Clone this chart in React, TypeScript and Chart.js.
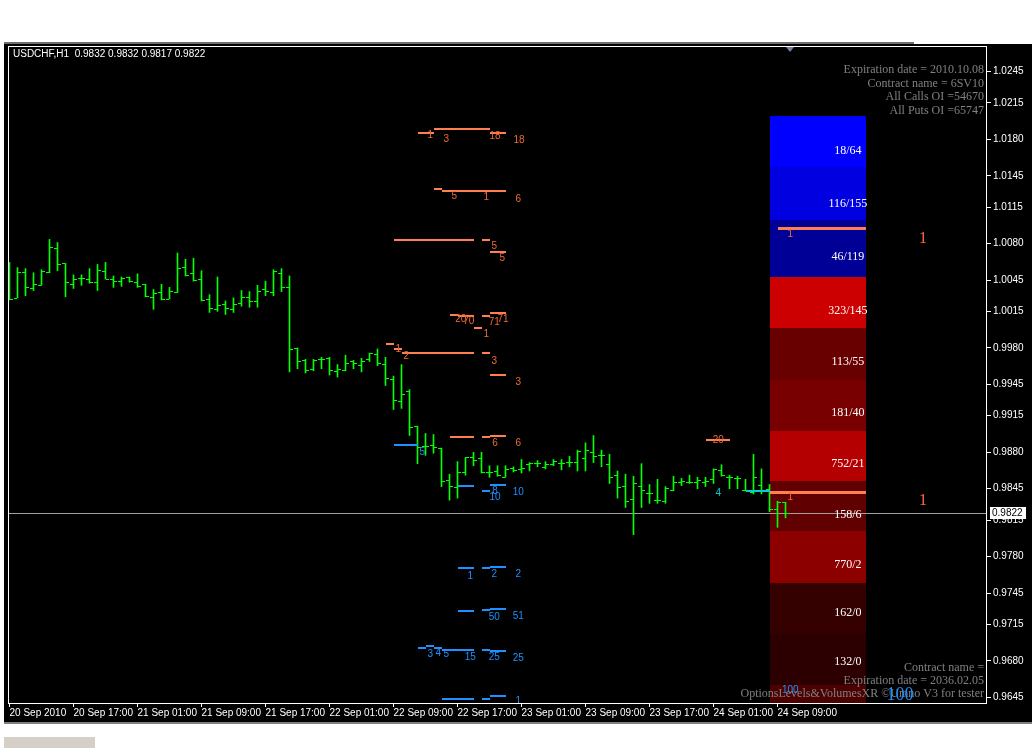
import React, { useEffect, useRef } from 'react';
import { Chart, registerables } from 'chart.js';

Chart.register(...registerables);

// ---------- data ----------
const HEADER = 'USDCHF,H1  0.9832 0.9832 0.9817 0.9822';
const LAST_PRICE = 0.9822;

const OPEN = [
  1.0045, 1.0028, 1.0053, 1.0037, 1.0040, 1.0053, 1.0076, 1.0061, 1.0041, 1.0047,
  1.0046, 1.0043, 1.0054, 1.0046, 1.0044, 1.0048, 1.0043, 1.0041, 1.0029, 1.0034,
  1.0027, 1.0034, 1.0058, 1.0052, 1.0046, 1.0027, 1.0017, 1.0022, 1.0017, 1.0023,
  1.0029, 1.0025, 1.0036, 1.0034, 1.0052, 1.0038, 0.9980, 0.9968, 0.9960, 0.9969,
  0.9970, 0.9958, 0.9959, 0.9967, 0.9964, 0.9969, 0.9974, 0.9965, 0.9950, 0.9929,
  0.9939, 0.9905, 0.9886, 0.9887, 0.9884, 0.9853, 0.9847, 0.9861, 0.9875, 0.9874,
  0.9861, 0.9862, 0.9856, 0.9865, 0.9864, 0.9869, 0.9870, 0.9866, 0.9869, 0.9870,
  0.9871, 0.9871, 0.9874, 0.9880, 0.9877, 0.9869, 0.9858, 0.9848, 0.9835, 0.9848,
  0.9841, 0.9834, 0.9833, 0.9844, 0.9851, 0.9851, 0.9851, 0.9851, 0.9854, 0.9863,
  0.9856, 0.9855, 0.9844, 0.9842, 0.9849, 0.9845, 0.9826, 0.9832,
];
const HIGH = [
  1.0062, 1.0057, 1.0056, 1.0052, 1.0055, 1.0084, 1.0081, 1.0061, 1.0050, 1.0050,
  1.0056, 1.0060, 1.0062, 1.0049, 1.0048, 1.0048, 1.0051, 1.0041, 1.0036, 1.0041,
  1.0038, 1.0071, 1.0065, 1.0066, 1.0054, 1.0031, 1.0048, 1.0025, 1.0028, 1.0035,
  1.0034, 1.0040, 1.0044, 1.0055, 1.0056, 1.0049, 0.9980, 0.9969, 0.9969, 0.9971,
  0.9971, 0.9964, 0.9973, 0.9968, 0.9970, 0.9975, 0.9979, 0.9971, 0.9953, 0.9964,
  0.9940, 0.9905, 0.9898, 0.9897, 0.9884, 0.9859, 0.9871, 0.9875, 0.9880, 0.9880,
  0.9867, 0.9867, 0.9867, 0.9866, 0.9873, 0.9870, 0.9872, 0.9871, 0.9873, 0.9873,
  0.9876, 0.9882, 0.9889, 0.9896, 0.9882, 0.9878, 0.9862, 0.9859, 0.9857, 0.9869,
  0.9849, 0.9854, 0.9847, 0.9857, 0.9855, 0.9858, 0.9856, 0.9856, 0.9864, 0.9868,
  0.9858, 0.9857, 0.9854, 0.9878, 0.9864, 0.9849, 0.9833, 0.9832,
];
const LOW = [
  1.0026, 1.0028, 1.0030, 1.0035, 1.0040, 1.0052, 1.0054, 1.0029, 1.0037, 1.0040,
  1.0042, 1.0035, 1.0046, 1.0038, 1.0039, 1.0043, 1.0038, 1.0029, 1.0017, 1.0026,
  1.0027, 1.0033, 1.0049, 1.0044, 1.0025, 1.0014, 1.0015, 1.0012, 1.0014, 1.0020,
  1.0019, 1.0019, 1.0030, 1.0030, 1.0034, 0.9957, 0.9960, 0.9956, 0.9958, 0.9960,
  0.9954, 0.9952, 0.9958, 0.9960, 0.9957, 0.9967, 0.9963, 0.9944, 0.9921, 0.9922,
  0.9896, 0.9869, 0.9877, 0.9879, 0.9847, 0.9834, 0.9836, 0.9858, 0.9867, 0.9860,
  0.9856, 0.9857, 0.9856, 0.9861, 0.9860, 0.9862, 0.9866, 0.9864, 0.9867, 0.9863,
  0.9866, 0.9862, 0.9862, 0.9870, 0.9866, 0.9850, 0.9836, 0.9827, 0.9801, 0.9827,
  0.9831, 0.9831, 0.9831, 0.9843, 0.9848, 0.9850, 0.9845, 0.9847, 0.9850, 0.9857,
  0.9845, 0.9845, 0.9843, 0.9840, 0.9840, 0.9823, 0.9808, 0.9817,
];
const CLOSE = [
  1.0027, 1.0053, 1.0038, 1.0041, 1.0054, 1.0077, 1.0060, 1.0043, 1.0046, 1.0047,
  1.0043, 1.0055, 1.0046, 1.0044, 1.0047, 1.0044, 1.0039, 1.0030, 1.0033, 1.0027,
  1.0035, 1.0057, 1.0050, 1.0045, 1.0026, 1.0018, 1.0021, 1.0018, 1.0022, 1.0029,
  1.0025, 1.0035, 1.0035, 1.0054, 1.0038, 0.9979, 0.9967, 0.9959, 0.9968, 0.9969,
  0.9959, 0.9960, 0.9966, 0.9966, 0.9967, 0.9975, 0.9966, 0.9951, 0.9930, 0.9936,
  0.9904, 0.9885, 0.9886, 0.9885, 0.9852, 0.9848, 0.9861, 0.9875, 0.9873, 0.9861,
  0.9861, 0.9858, 0.9864, 0.9863, 0.9865, 0.9870, 0.9870, 0.9869, 0.9872, 0.9870,
  0.9871, 0.9881, 0.9882, 0.9876, 0.9877, 0.9856, 0.9847, 0.9833, 0.9850, 0.9844,
  0.9841, 0.9834, 0.9846, 0.9851, 0.9852, 0.9851, 0.9853, 0.9852, 0.9864, 0.9858,
  0.9856, 0.9855, 0.9844, 0.9856, 0.9844, 0.9826, 0.9832, 0.9822,
];

const TIME_TICK_BARS = [0, 8, 16, 24, 32, 40, 48, 56, 64, 72, 80, 88, 96];
const TIME_TICK_LABELS = [
  '20 Sep 2010', '20 Sep 17:00', '21 Sep 01:00', '21 Sep 09:00', '21 Sep 17:00',
  '22 Sep 01:00', '22 Sep 09:00', '22 Sep 17:00', '23 Sep 01:00', '23 Sep 09:00',
  '23 Sep 17:00', '24 Sep 01:00', '24 Sep 09:00',
];
const PRICE_TICKS = [
  1.0245, 1.0215, 1.018, 1.0145, 1.0115, 1.008, 1.0045, 1.0015, 0.998, 0.9945,
  0.9915, 0.988, 0.9845, 0.9815, 0.978, 0.9745, 0.9715, 0.968, 0.9645,
];

// open-interest boxes (strike bands)
const BOX_TOP = [1.0202, 1.0153, 1.0103, 1.0048, 0.9999, 0.9949, 0.99, 0.9852, 0.9804, 0.9755, 0.9706, 0.9657];
const BOX_BOTTOM = [1.0153, 1.0103, 1.0048, 0.9999, 0.9949, 0.99, 0.9852, 0.9804, 0.9755, 0.9706, 0.9657, 0.96];
const BOX_LABEL_PRICE = [1.0169, 1.0118, 1.0067, 1.0016, 0.9967, 0.9918, 0.9869, 0.982, 0.9772, 0.9726, 0.9679, 0.963];
const BOX_LABELS = ['18/64', '116/155', '46/119', '323/145', '113/55', '181/40', '752/21', '158/6', '770/2', '162/0', '132/0', ''];
const BOX_FROM_BAR = 95;
const BOX_TO_BAR = 107.1;
const BOX_LABEL_BAR = 104.8;

// option level segments: [price, fromBar, toBar]
const CALL_SEGMENTS = [
  [1.019, 53, 60], [1.0186, 51, 53], [1.0186, 60, 62],
  [1.0132, 53, 54], [1.013, 54, 62],
  [1.0083, 48, 58], [1.0083, 59, 60], [1.0072, 60, 62],
  [1.0012, 55, 56], [1.0011, 56, 58], [1.0011, 59, 60], [0.9999, 58, 59], [1.0013, 60, 62],
  [0.9984, 47, 48], [0.9979, 48, 49], [0.9975, 49, 58], [0.9975, 59, 60], [0.9954, 60, 62],
  [0.9895, 55, 58], [0.9895, 59, 60], [0.9896, 60, 62],
  [0.9892, 87, 90],
];
const CALL_WIDE_SEGMENTS = [[1.0095, 96, 107.1], [0.9842, 95, 107.1]];
const PUT_SEGMENTS = [
  [0.9887, 48, 51],
  [0.9848, 56, 58], [0.9843, 59, 60], [0.9849, 60, 62],
  [0.9769, 56, 58], [0.9769, 59, 60], [0.977, 60, 62],
  [0.9728, 56, 58], [0.9729, 59, 60], [0.973, 60, 62],
  [0.9692, 51, 52], [0.9694, 52, 53], [0.9692, 53, 54], [0.969, 54, 58], [0.969, 59, 60], [0.9689, 60, 62],
  [0.9643, 54, 58], [0.9643, 59, 60], [0.9646, 60, 62],
];
const CYAN_SEGMENTS = [[0.9843, 92, 95]];

// option level labels: [bar, price, text]
const CALL_LABELS = [
  [52.6, 1.0184, '1'], [54.6, 1.018, '3'], [60.7, 1.0183, '18'], [63.7, 1.0179, '18'],
  [55.6, 1.0125, '5'], [59.6, 1.0124, '1'], [63.6, 1.0123, '6'],
  [60.6, 1.0077, '5'], [61.6, 1.0066, '5'],
  [56.4, 1.0007, '20'], [57.4, 1.0006, '70'], [60.6, 1.0005, '71'], [61.7, 1.0007, '71'], [59.6, 0.9993, '1'],
  [48.6, 0.9979, '1'], [49.6, 0.9972, '2'], [60.6, 0.9967, '3'], [63.6, 0.9947, '3'],
  [60.7, 0.9889, '6'], [63.6, 0.9889, '6'],
  [88.6, 0.9891, '20'],
  [97.6, 1.0089, '1'], [97.6, 0.9837, '1'],
];
const CALL_BIG_LABELS = [[114.2, 1.0085, '1'], [114.2, 0.9833, '1']];
const PUT_LABELS = [
  [51.6, 0.988, '5'],
  [60.7, 0.9843, '8'], [60.7, 0.9837, '10'], [63.6, 0.9842, '10'],
  [57.6, 0.9761, '1'], [60.6, 0.9763, '2'], [63.6, 0.9763, '2'],
  [60.6, 0.9722, '50'], [63.6, 0.9723, '51'],
  [52.6, 0.9686, '3'], [53.6, 0.9687, '4'], [54.6, 0.9686, '5'], [57.6, 0.9683, '15'], [60.6, 0.9683, '25'], [63.6, 0.9682, '25'],
  [63.6, 0.9641, '1'],
  [97.6, 0.9652, '100'],
];
const CYAN_LABELS = [[88.6, 0.9841, '4']];
const PUT_BIG_LABELS = [[111.3, 0.9647, '100']];

const INFO_TOP = ['Expiration date = 2010.10.08', 'Contract name = 6SV10', 'All Calls OI =54670', 'All Puts OI =65747'];
const INFO_BOTTOM = ['Contract name =', 'Expiration date = 2036.02.05', 'OptionsLevels&VolumesXR \u00A9Umno V3 for tester'];

// ---------- styling ----------
const X_MIN = -0.1875;
const X_MAX = 122.1875;
const Y_MIN = 0.963955;
const Y_MAX = 1.026945;
const BAR_COLOR = '#00ff00';
const CALL_COLOR = '#ff7f50';
const CALL_TEXT = '#f06a38';
const PUT_COLOR = '#1e90ff';
const CYAN_COLOR = '#00ced1';
const BOX_COLORS = ['#0000ff', '#0000e0', '#000096', '#cc0000', '#680000', '#780000', '#b40000', '#600000', '#8c0000', '#340000', '#2c0000', '#4c0000'];
const SANS = '"Liberation Sans", Arial, sans-serif';
const SERIF = '"Liberation Serif", "Times New Roman", serif';

function text(ctx: CanvasRenderingContext2D, s: string, x: number, y: number, font: string, color: string, align: CanvasTextAlign = 'center') {
  ctx.font = font;
  ctx.fillStyle = color;
  ctx.textAlign = align;
  ctx.textBaseline = 'middle';
  ctx.fillText(s, x, y);
}

const mtPlugin = {
  id: 'mtOverlay',
  beforeDraw(chart: any) {
    const ctx: CanvasRenderingContext2D = chart.ctx;
    const { left, top, right, bottom } = chart.chartArea;
    const xs = chart.scales.x;
    const ys = chart.scales.y;
    ctx.save();
    ctx.fillStyle = '#ffffff';
    ctx.fillRect(0, 0, chart.width, chart.height);
    ctx.fillStyle = '#000000';
    ctx.fillRect(4, 44, chart.width - 4, 678);
    ctx.fillStyle = '#6e6e6e';
    ctx.fillRect(4, 42, 910, 2);
    ctx.fillStyle = '#808080';
    ctx.fillRect(4, 722, chart.width - 4, 2);
    ctx.fillStyle = '#d4d0c8';
    ctx.fillRect(4, 737, 91, 11);

    // OI boxes
    ctx.beginPath();
    ctx.rect(left, top, right - left, bottom - top);
    ctx.clip();
    const bx0 = Math.round(xs.getPixelForValue(BOX_FROM_BAR));
    const bx1 = Math.round(xs.getPixelForValue(BOX_TO_BAR));
    for (let i = 0; i < BOX_TOP.length; i++) {
      const y0 = Math.round(ys.getPixelForValue(BOX_TOP[i]));
      const y1 = Math.round(ys.getPixelForValue(BOX_BOTTOM[i]));
      ctx.fillStyle = BOX_COLORS[i];
      ctx.fillRect(bx0, y0, bx1 - bx0, y1 - y0);
    }
    // bid line
    const by = Math.round(ys.getPixelForValue(LAST_PRICE)) + 0.5;
    ctx.strokeStyle = '#a0a0a0';
    ctx.lineWidth = 1;
    ctx.beginPath();
    ctx.moveTo(left, by);
    ctx.lineTo(right, by);
    ctx.stroke();
    ctx.restore();
  },
  afterDatasetsDraw(chart: any) {
    const ctx: CanvasRenderingContext2D = chart.ctx;
    const { left, top, right, bottom } = chart.chartArea;
    const xs = chart.scales.x;
    const ys = chart.scales.y;
    const px = (v: number) => xs.getPixelForValue(v);
    const py = (v: number) => ys.getPixelForValue(v);
    ctx.save();
    ctx.beginPath();
    ctx.rect(left, top, right - left, bottom - top);
    ctx.clip();

    // open / close ticks
    ctx.fillStyle = BAR_COLOR;
    for (let i = 0; i < OPEN.length; i++) {
      const c = Math.floor(px(i));
      ctx.fillRect(c - 3, Math.round(py(OPEN[i])), 3, 1);
      ctx.fillRect(c + 1, Math.round(py(CLOSE[i])), 3, 1);
    }

    // box labels
    for (let i = 0; i < BOX_LABELS.length; i++) {
      if (!BOX_LABELS[i]) continue;
      text(ctx, BOX_LABELS[i], px(BOX_LABEL_BAR), py(BOX_LABEL_PRICE[i]), `12px ${SERIF}`, '#ffffff');
    }

    const seg = (list: any[], color: string, w: number) => {
      ctx.fillStyle = color;
      for (const [p, a, b] of list) {
        const y = Math.round(py(p)) - Math.floor(w / 2);
        const x0 = Math.round(px(a));
        const x1 = Math.round(px(b));
        ctx.fillRect(x0, y, x1 - x0, w);
      }
    };
    seg(CALL_SEGMENTS, CALL_COLOR, 2);
    seg(PUT_SEGMENTS, PUT_COLOR, 2);
    seg(CYAN_SEGMENTS, CYAN_COLOR, 2);
    seg(CALL_WIDE_SEGMENTS, CALL_COLOR, 3);

    const lab = (list: any[], color: string, font: string) => {
      for (const [b, p, s] of list) text(ctx, s, px(b), py(p), font, color);
    };
    lab(CALL_LABELS, CALL_TEXT, `10px ${SANS}`);
    lab(PUT_LABELS, PUT_COLOR, `10px ${SANS}`);
    lab(CYAN_LABELS, CYAN_COLOR, `10px ${SANS}`);
    lab(CALL_BIG_LABELS, '#ff6a3d', `16px ${SERIF}`);

    // info texts
    const gray = '#808080';
    INFO_TOP.forEach((s, i) => text(ctx, s, right - 3, top + 24 + i * 13.5, `12px ${SERIF}`, gray, 'right'));
    INFO_BOTTOM.forEach((s, i) => text(ctx, s, right - 3, bottom - 35 + i * 13, `12px ${SERIF}`, gray, 'right'));
    lab(PUT_BIG_LABELS, PUT_COLOR, `18px ${SERIF}`);
    ctx.restore();
  },
  afterDraw(chart: any) {
    const ctx: CanvasRenderingContext2D = chart.ctx;
    const { left, top, right, bottom } = chart.chartArea;
    const ys = chart.scales.y;
    ctx.save();
    // frame
    ctx.strokeStyle = '#ffffff';
    ctx.lineWidth = 1;
    ctx.strokeRect(left + 0.5, top + 0.5, right - left - 1, bottom - top);
    // shift marker
    ctx.fillStyle = '#7080a0';
    ctx.beginPath();
    ctx.moveTo(786, top + 1);
    ctx.lineTo(794, top + 1);
    ctx.lineTo(790, top + 6);
    ctx.closePath();
    ctx.fill();
    // header
    text(ctx, HEADER, left + 5, top + 8, `10px ${SANS}`, '#ffffff', 'left');
    // last price tag
    const y = Math.round(ys.getPixelForValue(LAST_PRICE));
    ctx.fillStyle = '#ffffff';
    ctx.fillRect(right + 3, y - 6, 36, 12);
    text(ctx, LAST_PRICE.toFixed(4), right + 5, y, `10px ${SANS}`, '#000000', 'left');
    ctx.restore();
  },
};

export default function App() {
  const canvasRef = useRef<HTMLCanvasElement | null>(null);

  useEffect(() => {
    document.body.style.margin = '0';
    const canvas = canvasRef.current;
    if (!canvas) return;
    const chart = new Chart(canvas, {
      type: 'bar',
      data: {
        datasets: [
          {
            type: 'bar',
            label: 'USDCHF H1',
            data: HIGH.map((h, i) => ({ x: i, y: [LOW[i], h] })) as any,
            backgroundColor: BAR_COLOR,
            borderWidth: 0,
            barThickness: 1,
            grouped: false,
          } as any,
        ],
      },
      options: {
        responsive: false,
        maintainAspectRatio: false,
        animation: false,
        devicePixelRatio: 1,
        layout: { padding: { left: 8, top: 46, right: 0, bottom: 0 } },
        plugins: { legend: { display: false }, tooltip: { enabled: false } },
        scales: {
          x: {
            type: 'linear',
            offset: false,
            min: X_MIN,
            max: X_MAX,
            position: 'bottom',
            afterBuildTicks: (s: any) => {
              s.ticks = TIME_TICK_BARS.map((v) => ({ value: v }));
            },
            afterFit: (s: any) => {
              s.height = 45;
            },
            ticks: {
              autoSkip: false,
              maxRotation: 0,
              minRotation: 0,
              align: 'start',
              padding: 0,
              color: '#ffffff',
              font: { family: SANS, size: 10 },
              callback: (_v: any, i: number) => TIME_TICK_LABELS[i],
            },
            grid: { display: true, offset: false, drawOnChartArea: false, drawTicks: true, tickLength: 4, color: '#ffffff' },
            border: { display: false },
          },
          y: {
            type: 'linear',
            position: 'right',
            min: Y_MIN,
            max: Y_MAX,
            afterBuildTicks: (s: any) => {
              s.ticks = PRICE_TICKS.map((v) => ({ value: v }));
            },
            afterFit: (s: any) => {
              s.width = 45;
            },
            ticks: {
              autoSkip: false,
              padding: 2,
              color: '#ffffff',
              font: { family: SANS, size: 10 },
              callback: (v: any) => Number(v).toFixed(4),
            },
            grid: { display: true, drawOnChartArea: false, drawTicks: true, tickLength: 4, color: '#ffffff' },
            border: { display: false },
          },
        } as any,
      },
      plugins: [mtPlugin],
    });
    return () => chart.destroy();
  }, []);

  return (
    <div style={{ width: 1032, height: 748, position: 'relative' }}>
      <canvas ref={canvasRef} width={1032} height={748} style={{ display: 'block' }} />
    </div>
  );
}
